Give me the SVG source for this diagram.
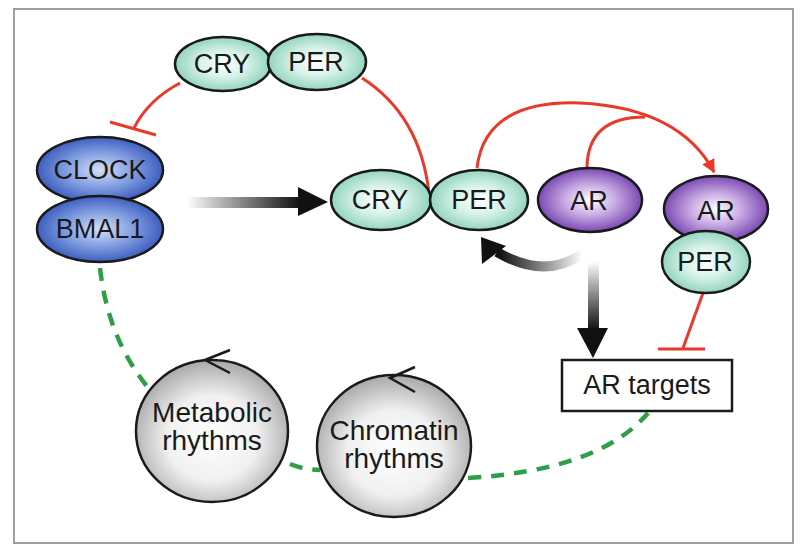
<svg xmlns="http://www.w3.org/2000/svg" width="800" height="556" viewBox="0 0 800 556">
<defs>
<radialGradient id="gTeal" cx="50%" cy="50%" r="55%">
<stop offset="0" stop-color="#ffffff"/><stop offset="0.45" stop-color="#d6f2e8"/><stop offset="1" stop-color="#86cfb6"/>
</radialGradient>
<radialGradient id="gBlue" cx="50%" cy="50%" r="55%">
<stop offset="0" stop-color="#d4def8"/><stop offset="0.5" stop-color="#7f9ce0"/><stop offset="1" stop-color="#2f50b8"/>
</radialGradient>
<radialGradient id="gPurple" cx="50%" cy="50%" r="55%">
<stop offset="0" stop-color="#ffffff"/><stop offset="0.45" stop-color="#c7a9e3"/><stop offset="1" stop-color="#6a36a8"/>
</radialGradient>
<radialGradient id="gGray" cx="50%" cy="55%" r="55%">
<stop offset="0" stop-color="#ffffff"/><stop offset="0.55" stop-color="#f0f0f0"/><stop offset="1" stop-color="#a8a8a8"/>
</radialGradient>
<linearGradient id="gArrowH" x1="187" y1="0" x2="300" y2="0" gradientUnits="userSpaceOnUse">
<stop offset="0" stop-color="#000" stop-opacity="0"/><stop offset="1" stop-color="#111"/>
</linearGradient>
<linearGradient id="gArrowV" x1="0" y1="262" x2="0" y2="330" gradientUnits="userSpaceOnUse">
<stop offset="0" stop-color="#000" stop-opacity="0"/><stop offset="1" stop-color="#111"/>
</linearGradient>
<linearGradient id="gArrowC" x1="582" y1="0" x2="500" y2="0" gradientUnits="userSpaceOnUse">
<stop offset="0" stop-color="#000" stop-opacity="0"/><stop offset="1" stop-color="#111"/>
</linearGradient>
<marker id="redHead" viewBox="0 0 10 10" refX="9" refY="5" markerWidth="4.5" markerHeight="4.5" orient="auto" markerUnits="strokeWidth">
<path d="M0,0 L10,5 L0,10 Z" fill="#e8392a"/>
</marker>
</defs>
<style>
.lbl{font-family:"Liberation Sans",Arial,sans-serif;font-size:27px;fill:#1a1a1a;text-anchor:middle;dominant-baseline:central}
.lbl2{font-family:"Liberation Sans",Arial,sans-serif;font-size:28px;fill:#1a1a1a;text-anchor:middle}
.node{stroke:#1a1a1a;stroke-width:2.5}
.red{fill:none;stroke:#e8392a;stroke-width:3}
.green{fill:none;stroke:#2e9e48;stroke-width:4.5;stroke-dasharray:13 10}
.chev{fill:none;stroke:#1a1a1a;stroke-width:2.5}
</style>
<rect x="14" y="9" width="779" height="534" fill="#fff" stroke="#a0a0a0" stroke-width="2"/>

<g id="connectors">
<path class="green" d="M100,268 Q108,340 150,390"/>
<path class="green" d="M290,464 Q305,470 320,470"/>
<path class="green" d="M468,478 Q600,470 648,413"/>
<path class="red" d="M180,83 Q148,100 134,128"/>
<line class="red" x1="110" y1="122" x2="156" y2="135"/>
<path class="red" d="M362,78 Q420,115 429,193"/>
<path class="red" d="M477,168 Q485,100 580,103 Q680,108 714,172" marker-end="url(#redHead)"/>
<path class="red" d="M587,167 Q588,117 645,117"/>
<path class="red" d="M703,293 L683,348"/>
<line class="red" x1="658" y1="349" x2="705" y2="349"/>
<rect x="187" y="197" width="113" height="11" fill="url(#gArrowH)"/>
<path d="M298,187 L328,202 L298,216 Z" fill="#111"/>
<rect x="588" y="262" width="11" height="68" fill="url(#gArrowV)"/>
<path d="M577,328 L608,328 L593,358 Z" fill="#111"/>
<path d="M582,254 Q545,280 497,252" fill="none" stroke="url(#gArrowC)" stroke-width="10"/>
<path d="M481,237 L482,264 L506,246 Z" fill="#111"/>
</g>

<g id="cry-top"><ellipse class="node" cx="223" cy="64" rx="48" ry="27" fill="url(#gTeal)"/><text class="lbl" x="222" y="64">CRY</text></g>
<g id="per-top"><ellipse class="node" cx="317" cy="62" rx="49" ry="28" fill="url(#gTeal)"/><text class="lbl" x="316" y="62">PER</text></g>
<g id="clock"><ellipse class="node" cx="100" cy="170" rx="63" ry="33" fill="url(#gBlue)"/><text class="lbl" x="100" y="170">CLOCK</text></g>
<g id="bmal1"><ellipse class="node" cx="100" cy="229" rx="63" ry="33" fill="url(#gBlue)"/><text class="lbl" x="100" y="229">BMAL1</text></g>
<g id="cry-mid"><ellipse class="node" cx="381" cy="200" rx="50" ry="30" fill="url(#gTeal)"/><text class="lbl" x="380" y="200">CRY</text></g>
<g id="per-mid"><ellipse class="node" cx="479" cy="200" rx="49" ry="30" fill="url(#gTeal)"/><text class="lbl" x="479" y="200">PER</text></g>
<g id="ar-mid"><ellipse class="node" cx="590" cy="200" rx="52" ry="32" fill="url(#gPurple)"/><text class="lbl" x="589" y="201">AR</text></g>
<g id="ar-right"><ellipse class="node" cx="716" cy="209" rx="52" ry="33" fill="url(#gPurple)"/><text class="lbl" x="716" y="211">AR</text></g>
<g id="per-right"><ellipse class="node" cx="706" cy="262" rx="44" ry="31" fill="url(#gTeal)"/><text class="lbl" x="705" y="262">PER</text></g>
<g id="ar-targets"><rect x="562" y="360" width="170" height="51" fill="#fff" stroke="#1a1a1a" stroke-width="2.5"/><text class="lbl" x="647" y="385">AR targets</text></g>
<g id="metabolic"><ellipse class="node" cx="212" cy="431" rx="76" ry="71" fill="url(#gGray)"/><path class="chev" d="M230,350 L205,360 L230,373"/><text class="lbl2" x="212" y="422">Metabolic</text><text class="lbl2" x="212" y="450">rhythms</text></g>
<g id="chromatin"><ellipse class="node" cx="394" cy="446" rx="77" ry="71" fill="url(#gGray)"/><path class="chev" d="M415,367 L390,378 L415,392"/><text class="lbl2" x="394" y="440">Chromatin</text><text class="lbl2" x="394" y="468">rhythms</text></g>
</svg>
